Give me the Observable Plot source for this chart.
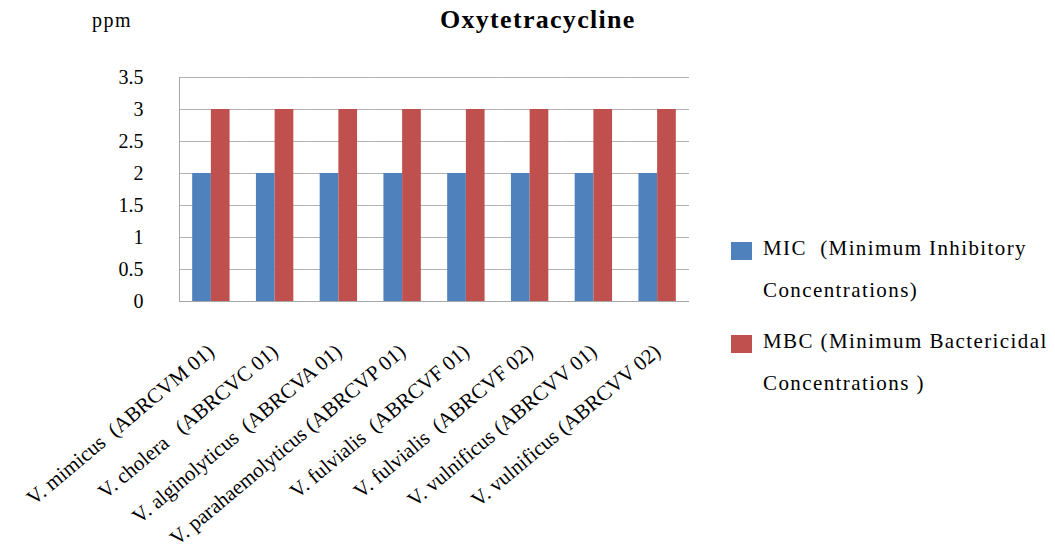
<!DOCTYPE html>
<html><head><meta charset="utf-8">
<script src="https://cdn.jsdelivr.net/npm/d3@7"></script>
<script src="https://cdn.jsdelivr.net/npm/@observablehq/plot@0.6"></script>
<style>
body{margin:0;background:#fff;}
#wrap{position:relative;width:1055px;height:560px;color:#000;}
#wrap, #wrap div, #wrap svg, #wrap svg text{font-family:"Liberation Serif","Times New Roman",serif !important;}
#wrap svg text{white-space:pre;}
.abs{position:absolute;white-space:pre;line-height:1;}
</style></head><body>
<div id="wrap"></div>
<script>
const categories = [
  "V. mimicus  (ABRCVM 01)",
  "V. cholera   (ABRCVC 01)",
  "V. alginolyticus  (ABRCVA 01)",
  "V. parahaemolyticus (ABRCVP 01)",
  "V. fulvialis  (ABRCVF 01)",
  "V. fulvialis  (ABRCVF 02)",
  "V. vulnificus (ABRCVV 01)",
  "V. vulnificus (ABRCVV 02)"
];
const seriesKeys = ["MIC", "MBC"];
const micValues = [2, 2, 2, 2, 2, 2, 2, 2];
const mbcValues = [3, 3, 3, 3, 3, 3, 3, 3];
const yTicks = [0, 0.5, 1, 1.5, 2, 2.5, 3, 3.5];
const seriesColors = ["#4F81BD", "#C0504D"];
const legendLines = [
  ["MIC  (Minimum Inhibitory", "Concentrations)"],
  ["MBC (Minimum Bactericidal", "Concentrations )"]
];
const titleText = "Oxytetracycline";
const unitText = "ppm";

const data = categories.flatMap((c, i) => [
  {category: c, series: seriesKeys[0], value: micValues[i]},
  {category: c, series: seriesKeys[1], value: mbcValues[i]}
]);

const font = '"Liberation Serif","Times New Roman",serif';
const chart = Plot.plot({
  width: 1055, height: 560,
  marginLeft: 179, marginRight: 366, marginTop: 77, marginBottom: 259,
  style: {fontFamily: font, fontSize: "20px", color: "#000", background: "#fff"},
  fx: {domain: categories, padding: 0, round: false, label: null},
  x: {domain: seriesKeys, paddingInner: 0, paddingOuter: 0.705, round: false, axis: null},
  y: {domain: [0, 3.5], label: null},
  color: {domain: seriesKeys, range: seriesColors},
  marks: [
    Plot.gridY(yTicks, {stroke: "#b3b3b3", strokeOpacity: 1}),
    Plot.barY(data, {fx: "category", x: "series", y: "value", fill: "series"}),
    Plot.ruleY([0], {stroke: "#a6a6a6"}),
    Plot.frame({anchor: "left", facetAnchor: "left", stroke: "#a6a6a6"}),
    Plot.axisY(yTicks, {tickSize: 0, tickPadding: 36, fontSize: 20, tickFormat: (d) => `${d}`, label: null}),
    Plot.axisFx({anchor: "bottom", tickRotate: -40, tickSize: 0, tickPadding: 47, fontSize: 21, textAnchor: "end", lineAnchor: "middle", label: null})
  ]
});
const wrap = document.getElementById("wrap");
wrap.appendChild(chart);

function addText(txt, left, top, size, bold) {
  const d = document.createElement("div");
  d.className = "abs";
  d.textContent = txt;
  d.style.left = left + "px";
  d.style.top = top + "px";
  d.style.fontSize = size + "px";
  if (bold) d.style.fontWeight = "bold";
  wrap.appendChild(d);
  return d;
}
const u = addText(unitText, 92, 10, 20, false);
u.style.letterSpacing = "1.5px";
const t = addText(titleText, 440, 7, 26, true);
t.style.letterSpacing = "1.3px";

const color = chart.scale("color");
seriesKeys.forEach((k, i) => {
  const sw = document.createElement("div");
  sw.style.position = "absolute";
  sw.style.left = "731px";
  sw.style.top = (242 + i * 93) + "px";
  sw.style.width = "21px";
  sw.style.height = "18px";
  sw.style.background = color.apply(k);
  wrap.appendChild(sw);
  legendLines[i].forEach((line, j) => {
    const d = addText(line, 763, 256 + i * 93 + j * 42 - 17.6, 21, false);
    d.style.letterSpacing = "1.4px";
  });
});
</script>
</body></html>
